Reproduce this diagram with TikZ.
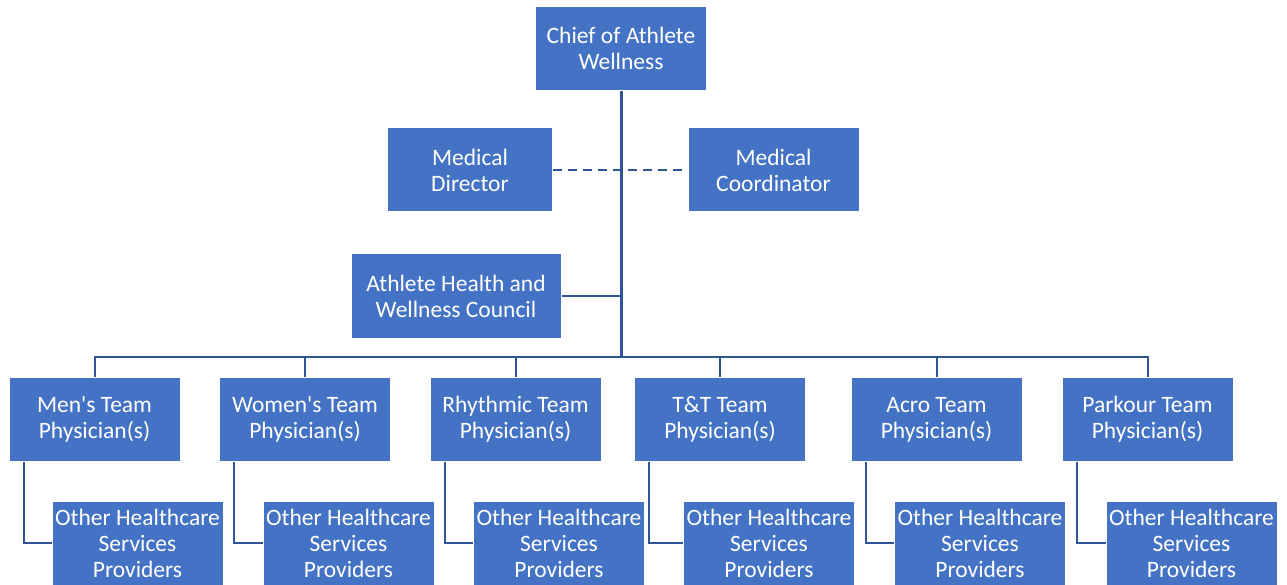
\documentclass[tikz,border=0pt]{standalone}
\usepackage{fontspec}
\setmainfont{Carlito}
\usetikzlibrary{calc}
\definecolor{boxblue}{HTML}{4472C4}
\definecolor{lineblue}{HTML}{2F5597}
\tikzset{
  box/.style={fill=boxblue, draw=white, line width=1pt, text=white, align=center,
    minimum width=171pt, minimum height=84pt, inner sep=0pt,
    font=\fontsize{23.5pt}{26pt}\selectfont},
  conn/.style={draw=lineblue, line width=2pt},
  trunk/.style={draw=lineblue, line width=3pt},
  dashconn/.style={draw=lineblue, line width=2pt, dash pattern=on 9pt off 6pt},
}
\begin{document}
\begin{tikzpicture}[x=1pt,y=-1pt]
\useasboundingbox (0,0) rectangle (1287,585);
\node[box] (chief) at (621,48.5) {Chief of Athlete\\Wellness};
\node[box, minimum width=165pt] (md) at (470,170) {Medical\\Director};
\node[box] (mc) at (773.5,170) {Medical\\Coordinator};
\node[box, minimum width=210pt] (council) at (456,296) {Athlete Health and\\Wellness Council};
\coordinate (bus) at (621,357);
\foreach \i/\x/\ox/\t in {1/94.5/137.5/{Men\textquotesingle s}, 2/305/348.5/{Women\textquotesingle s}, 3/515.5/559/Rhythmic, 4/720/769/T\&T, 5/936.5/980/Acro, 6/1147.5/1191.5/Parkour}{
  \node[box] (t\i) at (\x,419) {\t\ Team\vphantom{hy(}\\Physician(s)};
  \node[box] (o\i) at (\ox,543) {Other Healthcare\\Services\\Providers};
}
\draw[dashconn] (md.east) -- (mc.west);
\draw[trunk] (chief.south) -- (chief.south |- bus);
\draw[conn] (council.east) -- (council.east -| chief.south);
\draw[conn] (t1.north) -- (t1.north |- bus) -- (t6.north |- bus) -- (t6.north);
\foreach \i in {2,3,4,5}{
  \draw[conn] (t\i.north) -- (t\i.north |- bus);
}
\foreach \i in {1,...,6}{
  \draw[conn] ($(t\i.south west)+(15,0)$) |- (o\i.west);
}
\end{tikzpicture}
\end{document}
